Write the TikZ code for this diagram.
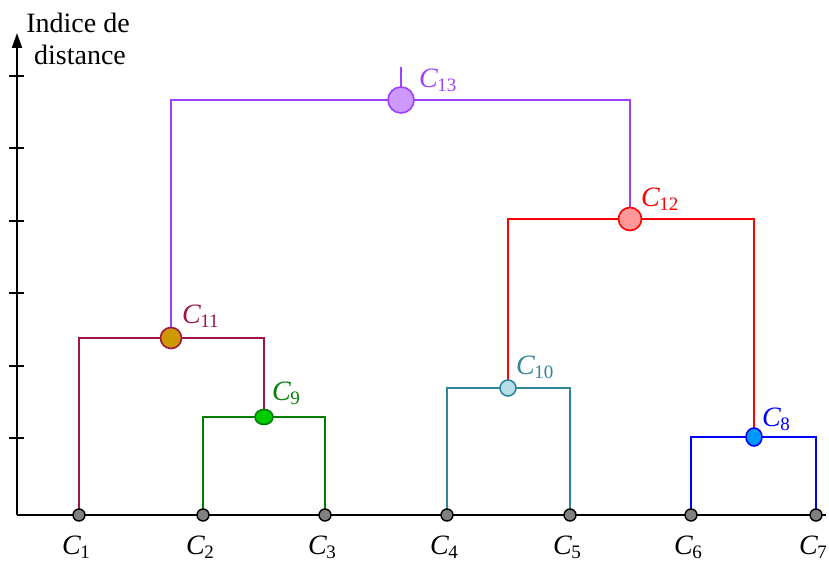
\documentclass[tikz,border=0pt]{standalone}
\usepackage{fontspec}
\setmainfont{Liberation Serif}
\usetikzlibrary{backgrounds,arrows.meta,shapes.geometric}
\definecolor{cpurple}{RGB}{160,64,255}
\definecolor{fpurple}{RGB}{204,153,255}
\definecolor{cred}{RGB}{255,0,0}
\definecolor{fred}{RGB}{255,153,153}
\definecolor{cmaroon}{RGB}{160,20,70}
\definecolor{fgold}{RGB}{204,153,0}
\definecolor{cgreen}{RGB}{0,128,0}
\definecolor{fgreen}{RGB}{0,204,0}
\definecolor{cteal}{RGB}{49,133,155}
\definecolor{fteal}{RGB}{183,221,232}
\definecolor{cblue}{RGB}{0,0,255}
\definecolor{fblue}{RGB}{0,153,255}
\definecolor{leafgray}{RGB}{128,128,128}
\newcommand\clab[1]{\textit{C}\kern-0.5pt\raisebox{-4pt}{\fontsize{19}{19}\selectfont #1}}
\begin{document}
\begin{tikzpicture}[x=1pt,y=-1pt,
  lab/.style={font=\fontsize{28}{32}\selectfont, inner sep=0pt, outer sep=0pt},
  leaf/.style={circle,draw=black,fill=leafgray,line width=1.4pt,minimum size=12pt,inner sep=0pt},
  joinnode/.style={draw=#1,line width=1.6pt,inner sep=0pt},
  branch/.style={line width=1.7pt,line join=miter},
  axisline/.style={line width=2pt,black}]
\useasboundingbox (0,0) rectangle (829,561);

% leaves
\node[leaf] (l1) at (79,515) {};
\node[leaf] (l2) at (203,515) {};
\node[leaf] (l3) at (325,515) {};
\node[leaf] (l4) at (447,515) {};
\node[leaf] (l5) at (570,515) {};
\node[leaf] (l6) at (691,515) {};
\node[leaf] (l7) at (816,515) {};

% internal nodes
\node[circle,joinnode=cpurple,fill=fpurple,minimum size=26pt] (c13) at (401,100) {};
\node[circle,joinnode=cred,fill=fred,minimum size=23pt] (c12) at (630,219) {};
\node[circle,joinnode=cmaroon,fill=fgold,minimum size=21pt] (c11) at (171,338) {};
\node[circle,joinnode=cteal,fill=fteal,minimum size=16pt] (c10) at (508,388) {};
\node[ellipse,joinnode=cgreen,fill=fgreen,minimum width=18pt,minimum height=15pt] (c9) at (264,417) {};
\node[ellipse,joinnode=cblue,fill=fblue,minimum width=16pt,minimum height=18pt] (c8) at (754,437) {};

\coordinate (stub) at (401,67);
\coordinate (o) at (17,515);
\coordinate (top) at (17,33);
\coordinate (xend) at (826,515);

% labels
\node[lab,text=cpurple,anchor=base west] (t13) at (419,88) {\clab{13}};
\node[lab,text=cred,anchor=base west] (t12) at (641,207) {\clab{12}};
\node[lab,text=cmaroon,anchor=base west] (t11) at (182,323) {\clab{11}};
\node[lab,text=cteal,anchor=base west] (t10) at (516,374) {\clab{10}};
\node[lab,text=cgreen,anchor=base west] (t9) at (272,400) {\clab{9}};
\node[lab,text=cblue,anchor=base west] (t8) at (762,426) {\clab{8}};

\node[lab,anchor=base] (tl1) at (76,554) {\clab{1}};
\node[lab,anchor=base] (tl2) at (200,554) {\clab{2}};
\node[lab,anchor=base] (tl3) at (322,554) {\clab{3}};
\node[lab,anchor=base] (tl4) at (444,554) {\clab{4}};
\node[lab,anchor=base] (tl5) at (567,554) {\clab{5}};
\node[lab,anchor=base] (tl6) at (688,554) {\clab{6}};
\node[lab,anchor=base] (tl7) at (813,554) {\clab{7}};

\node[lab,anchor=base] (title1) at (78,33) {Indice de};
\node[lab,anchor=base] (title2) at (80,65) {distance};

\begin{pgfonlayer}{background}
  \draw[axisline,-{Triangle[length=15pt,width=10pt]}] (o) -- (top);
  \draw[axisline] (o) -- (xend);
  \foreach \y in {76,148,221,293,366,438}
    \draw[line width=1.5pt] (9,\y) -- (24,\y);
  \draw[branch,cgreen] (c9.center) -| (l2.center) (c9.center) -| (l3.center);
  \draw[branch,cmaroon] (c11.center) -| (l1.center) (c11.center) -| (c9.center);
  \draw[branch,cteal] (c10.center) -| (l4.center) (c10.center) -| (l5.center);
  \draw[branch,cblue] (c8.center) -| (l6.center) (c8.center) -| (l7.center);
  \draw[branch,cred] (c12.center) -| (c10.center) (c12.center) -| (c8.center);
  \draw[branch,cpurple] (c13.center) -| (c11.center) (c13.center) -| (c12.center) (c13.center) -- (stub);
\end{pgfonlayer}
\end{tikzpicture}
\end{document}
